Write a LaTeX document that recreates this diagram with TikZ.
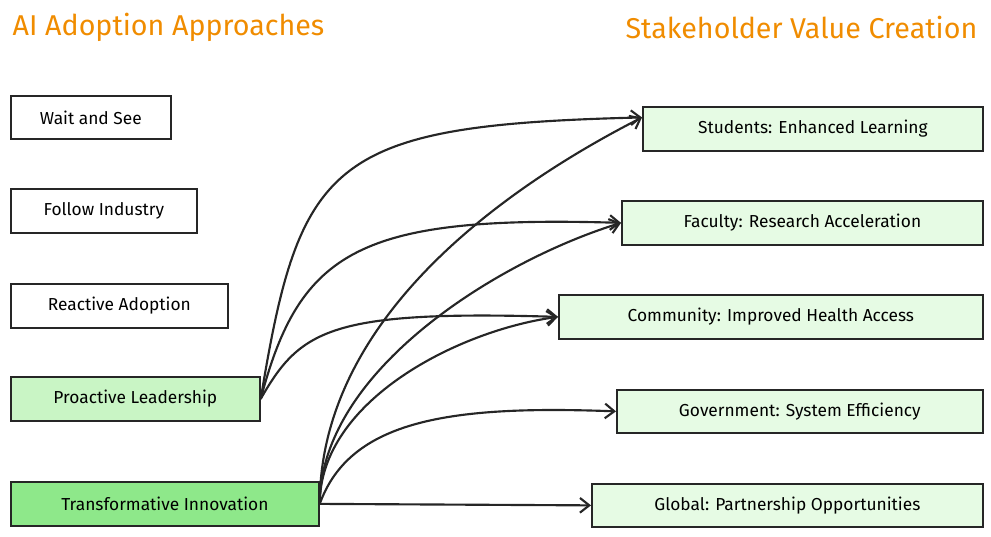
\documentclass[tikz,border=0pt]{standalone}
\usepackage{fontspec}
\setmainfont{Fira Sans}
\usetikzlibrary{arrows.meta,calc}
\definecolor{ttl}{HTML}{F08C00}
\definecolor{pl}{HTML}{C9F5C5}
\definecolor{ti}{HTML}{8EE88A}
\definecolor{rb}{HTML}{E6FBE4}
\tikzset{
 box/.style={draw=black!85,line width=1.3pt,inner sep=0pt,font=\fontsize{13}{15}\selectfont,anchor=north west},
 con/.style={line width=1.6pt,draw=black!85,-{Straight Barb[length=7pt,width=11pt]}},
 ttlt/.style={text=ttl,font=\fontsize{21.5}{25}\selectfont}
}
\begin{document}
\begin{tikzpicture}[x=0.75pt,y=-0.75pt]
\useasboundingbox (0,0) rectangle (991,536);
\node[ttlt,anchor=west] (t1) at (8,27) {AI Adoption Approaches};
\node[ttlt,anchor=east] (t2) at (982,27) {Stakeholder Value Creation};
\newcommand{\bx}[7]{\node[box,fill=#6,minimum width=#4*0.75pt-#2*0.75pt,minimum height=#5*0.75pt-#3*0.75pt] (#1) at (#2,#3) {#7};}
\bx{a}{10}{95}{170}{138}{white}{Wait and See}
\bx{b}{10}{188}{196}{232}{white}{Follow Industry}
\bx{c}{10}{283}{227}{327}{white}{Reactive Adoption}
\bx{d}{10}{376}{259}{420}{pl}{Proactive Leadership}
\bx{e}{10}{481}{318}{525}{ti}{Transformative Innovation}
\bx{s}{642}{106}{982}{150}{rb}{Students: Enhanced Learning}
\bx{f}{621}{200}{982}{244}{rb}{Faculty: Research Acceleration}
\bx{m}{558}{294}{982}{338}{rb}{Community: Improved Health Access}
\bx{g}{616}{389}{982}{432}{rb}{Government: System Efficiency}
\bx{o}{591}{483}{982}{526}{rb}{Global: Partnership Opportunities}
\coordinate (sp) at ($(s.north west)!0.25!(s.south west)$);
\draw[con] (d.east) .. controls (300,160) and (330,125) .. (sp);
\draw[con] (d.east) .. controls (300,250) and (360,215) .. (f.west);
\draw[con] (d.east) .. controls (300,330) and (330,310) .. (m.west);
\draw[con] (e.east) .. controls (320,320) and (500,190) .. (sp);
\draw[con] (e.east) .. controls (320,370) and (500,260) .. (f.west);
\draw[con] (e.east) .. controls (320,400) and (460,330) .. (m.west);
\draw[con] (e.east) .. controls (350,420) and (450,405) .. (g.west);
\draw[con] (e.east) -- (o.west);
\end{tikzpicture}
\end{document}
